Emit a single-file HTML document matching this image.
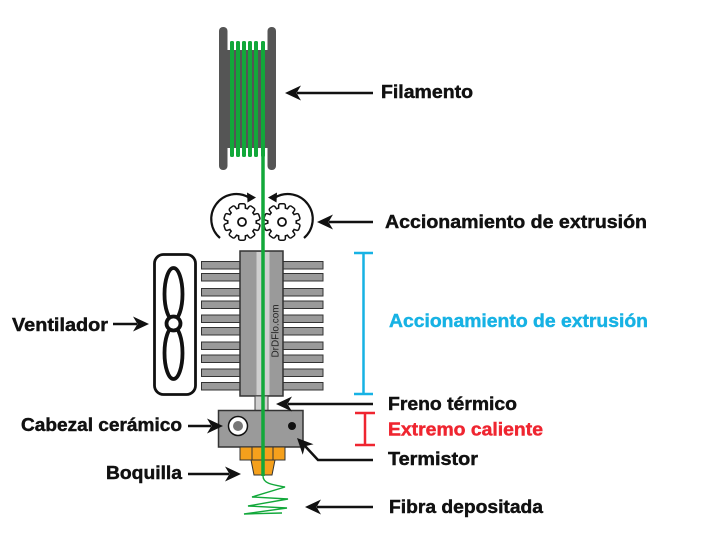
<!DOCTYPE html>
<html>
<head>
<meta charset="utf-8">
<style>
  html, body { margin: 0; padding: 0; background: #ffffff; }
  svg { display: block; }
  text { font-family: "Liberation Sans", "DejaVu Sans", sans-serif; font-weight: bold; }
</style>
</head>
<body>
<svg width="722" height="557" viewBox="0 0 722 557" xmlns="http://www.w3.org/2000/svg">
  <defs>
    <path id="ah" d="M0,0 L16,-7.5 L11.5,0 L16,7.5 Z" fill="#111"/>
    <rect id="tooth" x="-2.6" y="-17.5" width="5.2" height="6.5" rx="1"/>
    <g id="gearOut">
      <circle cx="0" cy="0" r="13.5"/>
      <use href="#tooth" transform="rotate(0)"/>
      <use href="#tooth" transform="rotate(36)"/>
      <use href="#tooth" transform="rotate(72)"/>
      <use href="#tooth" transform="rotate(108)"/>
      <use href="#tooth" transform="rotate(144)"/>
      <use href="#tooth" transform="rotate(180)"/>
      <use href="#tooth" transform="rotate(216)"/>
      <use href="#tooth" transform="rotate(252)"/>
      <use href="#tooth" transform="rotate(288)"/>
      <use href="#tooth" transform="rotate(324)"/>
    </g>
  </defs>

  <!-- Spool -->
  <rect x="219" y="27" width="8.5" height="143" rx="4" fill="#555"/>
  <rect x="267.5" y="27" width="8.5" height="143" rx="4" fill="#555"/>
  <rect x="226" y="50" width="43" height="98" fill="#555"/>
  <g fill="#12a83a">
    <rect x="230" y="41" width="4" height="116" rx="1.5"/>
    <rect x="236" y="41" width="4" height="116" rx="1.5"/>
    <rect x="242" y="41" width="4" height="116" rx="1.5"/>
    <rect x="248" y="41" width="4" height="116" rx="1.5"/>
    <rect x="254" y="41" width="4" height="116" rx="1.5"/>
    <rect x="261" y="41" width="4" height="116" rx="1.5"/>
  </g>

  <!-- Gears -->
  <g transform="translate(242,222)">
    <use href="#gearOut" fill="#111" stroke="#111" stroke-width="3"/>
    <use href="#gearOut" fill="#fff"/>
    <circle r="4" fill="#fff" stroke="#111" stroke-width="1.8"/>
  </g>
  <g transform="translate(282,222)">
    <use href="#gearOut" fill="#111" stroke="#111" stroke-width="3"/>
    <use href="#gearOut" fill="#fff"/>
    <circle r="4" fill="#fff" stroke="#111" stroke-width="1.8"/>
  </g>
  <!-- rotation arrows -->
  <path d="M220,238 A25,25 0 0 1 249,197.5" fill="none" stroke="#111" stroke-width="2.2"/>
  <path d="M256,197.5 L247,192.5 L247.5,202.5 Z" fill="#111"/>
  <path d="M304,238 A25,25 0 0 0 275,197.5" fill="none" stroke="#111" stroke-width="2.2"/>
  <path d="M268,197.5 L277,192.5 L276.5,202.5 Z" fill="#111"/>

  <!-- Fan -->
  <rect x="154.5" y="254.5" width="41" height="140" rx="9" fill="#fff" stroke="#111" stroke-width="2.8"/>
  <ellipse cx="173.5" cy="294" rx="9" ry="26" fill="#fff" stroke="#111" stroke-width="3.8"/>
  <ellipse cx="173.5" cy="353" rx="9" ry="26" fill="#fff" stroke="#111" stroke-width="3.8"/>
  <circle cx="173.5" cy="323.5" r="7" fill="#fff" stroke="#111" stroke-width="3.8"/>

  <!-- Heatsink fins -->
  <g fill="#9a9a9a" stroke="#333" stroke-width="1">
    <rect x="201.5" y="261.5" width="39" height="7.5"/>
    <rect x="201.5" y="273.5" width="39" height="7.5"/>
    <rect x="201.5" y="288.5" width="39" height="7.5"/>
    <rect x="201.5" y="301" width="39" height="7.5"/>
    <rect x="201.5" y="315" width="39" height="7.5"/>
    <rect x="201.5" y="327.5" width="39" height="7.5"/>
    <rect x="201.5" y="342" width="39" height="7.5"/>
    <rect x="201.5" y="355" width="39" height="7.5"/>
    <rect x="201.5" y="369" width="39" height="7.5"/>
    <rect x="201.5" y="382.5" width="39" height="7.5"/>

    <rect x="282.5" y="261.5" width="40.5" height="7.5"/>
    <rect x="282.5" y="273.5" width="40.5" height="7.5"/>
    <rect x="282.5" y="288.5" width="40.5" height="7.5"/>
    <rect x="282.5" y="301" width="40.5" height="7.5"/>
    <rect x="282.5" y="315" width="40.5" height="7.5"/>
    <rect x="282.5" y="327.5" width="40.5" height="7.5"/>
    <rect x="282.5" y="342" width="40.5" height="7.5"/>
    <rect x="282.5" y="355" width="40.5" height="7.5"/>
    <rect x="282.5" y="369" width="40.5" height="7.5"/>
    <rect x="282.5" y="382.5" width="40.5" height="7.5"/>
  </g>
  <!-- Heatsink block -->
  <rect x="240" y="251" width="43" height="145" fill="#9a9a9a" stroke="#333" stroke-width="1.5"/>
  <rect x="256.5" y="252" width="13" height="143" fill="#cfcfcf"/>
  <text x="0" y="0" font-size="10" fill="#222" text-anchor="middle" transform="translate(278.5,331) rotate(-90)" textLength="53" lengthAdjust="spacingAndGlyphs" style="font-weight:normal">DrDFlo.com</text>

  <!-- Throat -->
  <rect x="255" y="396" width="13" height="15" fill="#d0d0d0" stroke="#444" stroke-width="1"/>

  <!-- Heater block -->
  <rect x="218.5" y="410.5" width="84.5" height="36.5" fill="#9a9a9a" stroke="#333" stroke-width="1.5"/>
  <circle cx="238" cy="426" r="9.5" fill="#fff" stroke="#111" stroke-width="1.5"/>
  <circle cx="238" cy="426" r="5" fill="#777"/>
  <circle cx="292" cy="426" r="4" fill="#111"/>

  <!-- Nozzle -->
  <rect x="240" y="447" width="45" height="13" fill="#f5a01c" stroke="#333" stroke-width="1"/>
  <line x1="252" y1="447" x2="252" y2="460" stroke="#333" stroke-width="1"/>
  <line x1="273" y1="447" x2="273" y2="460" stroke="#333" stroke-width="1"/>
  <polygon points="251,460 275,460 272,475 254,475" fill="#f5a01c" stroke="#333" stroke-width="1"/>

  <!-- Filament -->
  <line x1="263" y1="150" x2="263" y2="476" stroke="#12a83a" stroke-width="3.5"/>
  <path d="M263,476 C263,484 274,485 285,487 L252,497 L288,499 L248,506 L287,508 L244,514 L282,513" fill="none" stroke="#12a83a" stroke-width="1.4"/>

  <!-- Arrows -->
  <g stroke="#111" stroke-width="2.5" fill="none">
    <line x1="373" y1="93" x2="297" y2="93"/>
    <line x1="373" y1="222" x2="329" y2="222"/>
    <line x1="373" y1="404" x2="288" y2="404"/>
    <polyline points="373,460 318,460 305,446"/>
    <line x1="373" y1="507" x2="317" y2="507"/>
    <line x1="113" y1="324" x2="137" y2="324"/>
    <line x1="188" y1="426" x2="211" y2="426"/>
    <line x1="188" y1="474" x2="229" y2="474"/>
  </g>
  <use href="#ah" transform="translate(285,93)"/>
  <use href="#ah" transform="translate(317,222)"/>
  <use href="#ah" transform="translate(276,404)"/>
  <use href="#ah" transform="translate(297,438) rotate(46)"/>
  <use href="#ah" transform="translate(305,507)"/>
  <use href="#ah" transform="translate(149,324) rotate(180)"/>
  <use href="#ah" transform="translate(223,426) rotate(180)"/>
  <use href="#ah" transform="translate(241,474) rotate(180)"/>

  <!-- Blue bracket -->
  <g stroke="#17b2e4" stroke-width="2.5">
    <line x1="363.5" y1="253" x2="363.5" y2="394"/>
    <line x1="354" y1="253" x2="373" y2="253"/>
    <line x1="354" y1="394" x2="373" y2="394"/>
  </g>
  <!-- Red bracket -->
  <g stroke="#ef2530" stroke-width="2.5">
    <line x1="365" y1="413" x2="365" y2="445"/>
    <line x1="355" y1="413" x2="375" y2="413"/>
    <line x1="355" y1="445" x2="375" y2="445"/>
  </g>

  <!-- Labels -->
  <g font-size="18.5" fill="#111" stroke="#111" stroke-width="0.45">
    <text x="381" y="98" textLength="92" lengthAdjust="spacingAndGlyphs">Filamento</text>
    <text x="385" y="228" textLength="262" lengthAdjust="spacingAndGlyphs">Accionamiento de extrusión</text>
    <text x="12" y="331" textLength="96" lengthAdjust="spacingAndGlyphs">Ventilador</text>
    <text x="21" y="431" textLength="161" lengthAdjust="spacingAndGlyphs">Cabezal cerámico</text>
    <text x="106" y="479" textLength="76" lengthAdjust="spacingAndGlyphs">Boquilla</text>
    <text x="388" y="410" textLength="129" lengthAdjust="spacingAndGlyphs">Freno térmico</text>
    <text x="388" y="465" textLength="90" lengthAdjust="spacingAndGlyphs">Termistor</text>
    <text x="389" y="513" textLength="154" lengthAdjust="spacingAndGlyphs">Fibra depositada</text>
  </g>
  <text x="389" y="327" font-size="18.5" fill="#17b2e4" stroke="#17b2e4" stroke-width="0.45" textLength="259" lengthAdjust="spacingAndGlyphs">Accionamiento de extrusión</text>
  <text x="388" y="435.5" font-size="18.5" fill="#ef2530" stroke="#ef2530" stroke-width="0.45" textLength="155" lengthAdjust="spacingAndGlyphs">Extremo caliente</text>
</svg>
</body>
</html>
